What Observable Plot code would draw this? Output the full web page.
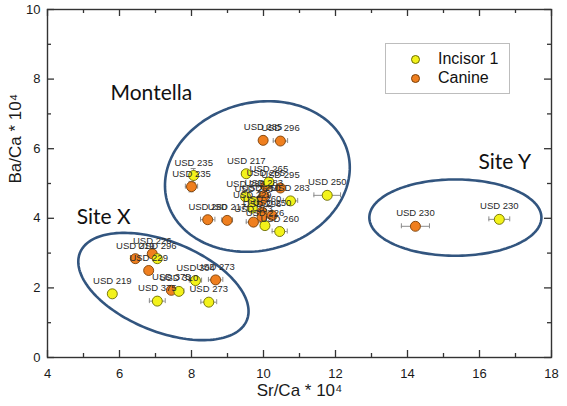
<!DOCTYPE html>
<html><head><meta charset="utf-8">
<script src="https://cdn.jsdelivr.net/npm/d3@7"></script>
<script src="https://cdn.jsdelivr.net/npm/@observablehq/plot@0.6"></script>
<style>
body{margin:0;background:#fff;}
#wrap{position:relative;width:567px;height:406px;font-family:"Liberation Sans",Arial,sans-serif;}
#legend{position:absolute;left:385px;top:43px;width:123px;height:49px;border:1px solid #bdbdbd;background:#fff;}
.li{position:absolute;left:0;height:18px;width:123px;}
.li .m{position:absolute;left:25px;top:4px;width:9px;height:9px;border-radius:50%;box-sizing:border-box;}
.li .t{position:absolute;left:52px;top:-1px;font-size:16px;color:#111;line-height:18px;}
</style></head><body><div id="wrap"></div>
<script>
// ---- data ----
const canineLabels = ["USD 285","USD 296","USD 235","USD 280","USD 217","USD 263","USD 265","USD 295","USD 283","USD 250","USD 260","USD 296","USD 250",
                      "USD 226","USD 219","USD 229","USD 273","USD 375","USD 230"];
const canineX  = [9.99,10.47,8.00,8.45,8.99,9.72,10.06,10.47,10.01,9.94,9.96,9.96,10.24, 6.91,6.44,6.81,8.67,7.44, 14.22];
const canineY  = [6.24,6.22,4.91,3.96,3.94,3.89,4.93,4.87,4.65,4.51,4.18,4.04,4.08, 2.98,2.84,2.50,2.23,1.93, 3.77];
const canineXe = [0,0.20,0.17,0.20,0.15,0.20,0,0,0,0,0,0,0, 0,0,0,0.20,0,0.39];
const canineYe = [0,0,0.15,0,0,0,0,0,0,0,0,0,0, 0,0,0,0,0,0];

const incisorLabels = ["USD 235","USD 217","USD 265","USD 285","USD 283","USD 263","USD 229","USD 250","USD 226","USD 260",
                       "USD 296","USD 304","USD 310","USD 273","USD 375","USD 219","USD 230"];
const incisorX  = [8.06,9.52,10.15,9.50,10.75,9.73,9.69,11.77,10.04,10.45, 7.05,8.11,7.65,8.48,7.05,5.80, 16.55];
const incisorY  = [5.23,5.28,5.04,4.62,4.50,4.47,4.29,4.66,3.79,3.62, 2.84,2.21,1.90,1.59,1.62,1.83, 3.97];
const incisorXe = [0,0.12,0,0,0.20,0,0,0.37,0,0.21, 0,0.17,0.14,0.22,0.22,0.08, 0.29];
const incisorYe = [0.20,0,0,0,0,0,0,0,0,0, 0,0,0,0,0,0.10, 0];

const groupNames = ["Montella","Site X","Site Y"];
const groupLabelX = [5.75,4.81,15.97];
const groupLabelY = [7.39,3.85,5.43];
const ellipseCx = [9.83,7.22,15.33];
const ellipseCy = [5.20,2.04,4.02];
const ellipseA  = [2.60,2.50,2.39];   // semi-axes in x-units
const ellipseB  = [2.05,1.25,1.06];
const ellipseRot = [-15,22,0];        // degrees

const xTicks = [4,6,8,10,12,14,16,18];
const xMinor = [5,7,9,11,13,15,17];
const yTicks = [0,2,4,6,8,10];
const yMinor = [1,3,5,7,9];
const legendNames = ["Incisor 1","Canine"];

// ---- layout ----
const W=567,H=406,ML=47,MR=16,MT=9,MB=49;
const PW=W-ML-MR, PH=H-MT-MB;
const pxX = PW/(18-4), pxY = PH/10;
const FONT='"Liberation Sans",Arial,sans-serif';
const canineFill="#ef7f1f", canineStroke="#7a3f08";
const incFill="#f3f21a", incStroke="#6b6b00";

const canine = canineLabels.map((l,i)=>({label:l,x:canineX[i],y:canineY[i],xe:canineXe[i],ye:canineYe[i]}));
const incisor = incisorLabels.map((l,i)=>({label:l,x:incisorX[i],y:incisorY[i],xe:incisorXe[i],ye:incisorYe[i]}));
const all = canine.concat(incisor);
const xerr = all.filter(d=>d.xe>0), yerr = all.filter(d=>d.ye>0);
const capH = 2.5/pxY, capW = 2.5/pxX;

const ell = [];
groupNames.forEach((n,k)=>{
  const a=ellipseA[k]*pxX, b=ellipseB[k]*pxX, th=ellipseRot[k]*Math.PI/180;
  for(let i=0;i<=160;i++){
    const t=i/160*2*Math.PI, ux=a*Math.cos(t), uy=b*Math.sin(t);
    const rx=ux*Math.cos(th)-uy*Math.sin(th), ry=ux*Math.sin(th)+uy*Math.cos(th);
    ell.push({name:n,x:ellipseCx[k]+rx/pxX,y:ellipseCy[k]-ry/pxY});
  }
});
const groups = groupNames.map((n,i)=>({name:n,x:groupLabelX[i],y:groupLabelY[i]}));
const axisColor="#333";

const chart = Plot.plot({
  width:W,height:H,marginLeft:ML,marginRight:MR,marginTop:MT,marginBottom:MB,
  x:{domain:[4,18]}, y:{domain:[0,10]},
  style:{fontFamily:FONT,background:"#fff"},
  marks:[
    Plot.line(ell,{x:"x",y:"y",z:"name",stroke:"#32557f",strokeWidth:2.6}),
    // error bars
    Plot.ruleY(xerr,{y:"y",x1:d=>d.x-d.xe,x2:d=>d.x+d.xe,stroke:"#8c8c8c",strokeWidth:1}),
    Plot.ruleX(xerr,{x:d=>d.x-d.xe,y1:d=>d.y-capH,y2:d=>d.y+capH,stroke:"#8c8c8c",strokeWidth:1}),
    Plot.ruleX(xerr,{x:d=>d.x+d.xe,y1:d=>d.y-capH,y2:d=>d.y+capH,stroke:"#8c8c8c",strokeWidth:1}),
    Plot.ruleX(yerr,{x:"x",y1:d=>d.y-d.ye,y2:d=>d.y+d.ye,stroke:"#8c8c8c",strokeWidth:1}),
    Plot.ruleY(yerr,{y:d=>d.y-d.ye,x1:d=>d.x-capW,x2:d=>d.x+capW,stroke:"#8c8c8c",strokeWidth:1}),
    Plot.ruleY(yerr,{y:d=>d.y+d.ye,x1:d=>d.x-capW,x2:d=>d.x+capW,stroke:"#8c8c8c",strokeWidth:1}),
    Plot.dot(canine,{x:"x",y:"y",r:5,fill:canineFill,stroke:canineStroke,strokeWidth:0.9}),
    Plot.dot(incisor,{x:"x",y:"y",r:5,fill:incFill,stroke:incStroke,strokeWidth:0.9}),
    Plot.text(all,{x:"x",y:"y",text:"label",dy:-13,fontSize:9.5,fill:"#2a2a2a",fontFamily:FONT}),
    Plot.text(groups,{x:"x",y:"y",text:"name",textAnchor:"start",lineAnchor:"bottom",fontSize:21,fill:"#111",fontFamily:"Lato"}),
    // frame & ticks
    Plot.frame({stroke:axisColor,strokeWidth:1.4}),
    Plot.tickX(xTicks,{x:d=>d,insetTop:PH-7,stroke:axisColor,strokeWidth:1.3}),
    Plot.tickX(xMinor,{x:d=>d,insetTop:PH-4,stroke:axisColor,strokeWidth:1.3}),
    Plot.tickX(xTicks,{x:d=>d,insetBottom:PH-7,stroke:axisColor,strokeWidth:1.3}),
    Plot.tickX(xMinor,{x:d=>d,insetBottom:PH-4,stroke:axisColor,strokeWidth:1.3}),
    Plot.tickY(yTicks,{y:d=>d,insetRight:PW-7,stroke:axisColor,strokeWidth:1.3}),
    Plot.tickY(yMinor,{y:d=>d,insetRight:PW-4,stroke:axisColor,strokeWidth:1.3}),
    Plot.tickY(yTicks,{y:d=>d,insetLeft:PW-7,stroke:axisColor,strokeWidth:1.3}),
    Plot.tickY(yMinor,{y:d=>d,insetLeft:PW-4,stroke:axisColor,strokeWidth:1.3}),
    Plot.axisX(xTicks,{tickSize:0,tickPadding:11,fontSize:13,fill:"#1a1a1a",label:null}),
    Plot.axisY(yTicks,{tickSize:0,tickPadding:7,fontSize:13,fill:"#1a1a1a",label:null}),
    Plot.text(["Sr/Ca * 10\u2074"],{frameAnchor:"bottom",dy:38,lineAnchor:"bottom",fontSize:17,fill:"#1a1a1a"}),
    Plot.text(["Ba/Ca * 10\u2074"],{frameAnchor:"left",dx:-27,rotate:-90,lineAnchor:"bottom",fontSize:17,fill:"#1a1a1a"})
  ]
});
const wrap=document.getElementById("wrap");
wrap.appendChild(chart);
const lg=document.createElement("div"); lg.id="legend";
[[incFill,incStroke],[canineFill,canineStroke]].forEach((c,i)=>{
  const row=document.createElement("div"); row.className="li"; row.style.top=(7+i*19)+"px";
  const m=document.createElement("span"); m.className="m"; m.style.background=c[0]; m.style.border="1px solid "+c[1];
  const t=document.createElement("span"); t.className="t"; t.textContent=legendNames[i];
  row.appendChild(m); row.appendChild(t); lg.appendChild(row);
});
wrap.appendChild(lg);
</script></body></html>
